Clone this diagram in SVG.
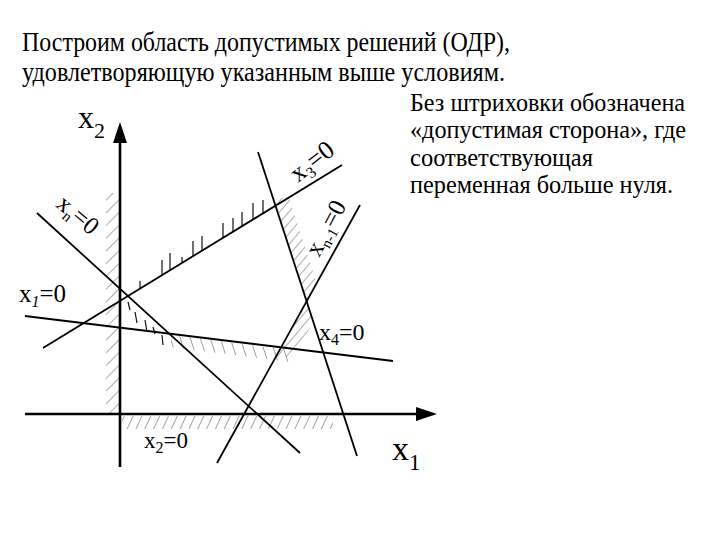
<svg xmlns="http://www.w3.org/2000/svg" width="720" height="540" viewBox="0 0 720 540" font-family="Liberation Serif">
<style>
text{fill:#000}
.ax{stroke:#000;stroke-width:2.6;fill:none}
.ln{stroke:#000;stroke-width:1.8;fill:none}
.tk{stroke:#111;stroke-width:1.2;fill:none}
.hb{stroke:none}
</style>
<defs>
<pattern id="h45" width="9" height="8" patternUnits="userSpaceOnUse" patternTransform="rotate(45)"><line x1="0" y1="0" x2="0" y2="8" stroke="#666" stroke-width="1.1"/></pattern>
<pattern id="h25" width="8" height="8" patternUnits="userSpaceOnUse" patternTransform="rotate(25)"><line x1="0" y1="0" x2="0" y2="8" stroke="#555" stroke-width="1.1"/></pattern>
<pattern id="hb18" width="9.5" height="8" patternUnits="userSpaceOnUse" patternTransform="rotate(-18)"><line x1="0" y1="0" x2="0" y2="8" stroke="#555" stroke-width="1.1"/></pattern>
<pattern id="h40" width="7" height="8" patternUnits="userSpaceOnUse" patternTransform="rotate(40)"><line x1="0" y1="0" x2="0" y2="8" stroke="#666" stroke-width="1.1"/></pattern>
</defs>
<rect width="720" height="540" fill="#fff"/>
<g id="title" font-family="Liberation Serif">
<text x="22" y="51" font-size="28" textLength="488" lengthAdjust="spacingAndGlyphs">Построим область допустимых решений (ОДР),</text>
<text x="22" y="81" font-size="28" textLength="483" lengthAdjust="spacingAndGlyphs">удовлетворяющую указанным выше условиям.</text>
</g>
<g id="note" font-family="Liberation Serif">
<text x="410" y="111" font-size="26" textLength="275" lengthAdjust="spacingAndGlyphs">Без штриховки обозначена</text>
<text x="410" y="138" font-size="26" textLength="276" lengthAdjust="spacingAndGlyphs">«допустимая сторона», где</text>
<text x="410" y="166" font-size="26" textLength="183" lengthAdjust="spacingAndGlyphs">соответствующая</text>
<text x="410" y="193" font-size="26" textLength="263" lengthAdjust="spacingAndGlyphs">переменная больше нуля.</text>
</g>
<g id="hatching">
<polygon class="hb" fill="url(#h45)" points="106,193 119,193 119,413 106,413"/>
<polygon class="hb" fill="url(#h25)" points="122,416 333,416 333,429 122,429"/>
<polygon class="hb" fill="url(#hb18)" points="171,335 290,350 290,362 171,347"/>
<polygon class="hb" fill="url(#h40)" points="273,198 289,198 316.8,283.3 306.7,301.5"/>
<polygon class="hb" fill="url(#h40)" points="306.7,301.5 313.3,321.9 293.9,357 275.9,357"/>
<path class="tk" d="M140 288.6V281M162 275.2V260M170 270.3V253M182 262.9V257M193 256.2V241M202 250.7V236M223 237.8V223M233 231.7V218M242 226.2V212M253 219.5V203M263 213.4V200"/>
<path class="tk" d="M128 302L130 310M135 312L137 323M145 320L147 332M153 327L155 334M162 335L163 345"/>
</g>
<g id="connectors">
<line class="ln" x1="25" y1="316" x2="393" y2="361"/>
<line class="ln" x1="43" y1="348" x2="342" y2="165"/>
<line class="ln" x1="37" y1="213" x2="300" y2="453"/>
<line class="ln" x1="217" y1="463" x2="360" y2="205"/>
<line class="ln" x1="258" y1="152" x2="357" y2="456"/>
</g>
<g id="axis-x2" font-family="Liberation Serif">
<line class="ax" x1="120" y1="467" x2="120" y2="140"/>
<polygon points="120,122 113,143 127,143" fill="#000"/>
<text x="78" y="128" font-size="32">x<tspan font-size="22" dy="10">2</tspan></text>
</g>
<g id="axis-x1" font-family="Liberation Serif">
<line class="ax" x1="25" y1="414" x2="419" y2="414"/>
<polygon points="437,414 416,407 416,421" fill="#000"/>
<text x="392" y="460" font-size="34">x<tspan font-size="23" dy="10">1</tspan></text>
</g>
<g id="labels" font-family="Liberation Serif">
<text x="19" y="302" font-size="25">x<tspan font-size="16" font-style="italic" dy="5">1</tspan><tspan dy="-5">=0</tspan></text>
<text x="319" y="340" font-size="24">x<tspan font-size="16" dy="5">4</tspan><tspan dy="-5">=0</tspan></text>
<text x="144" y="448" font-size="23">x<tspan font-size="16" dy="5">2</tspan><tspan dy="-5">=0</tspan></text>
<text transform="translate(298,183) rotate(-38)" font-size="26">x<tspan font-size="16" dy="5">3</tspan><tspan dy="-5">=0</tspan></text>
<text transform="translate(319,258) rotate(-62)" font-size="25">x<tspan font-size="15" dy="5">n-1</tspan><tspan dy="-5">=0</tspan></text>
<text transform="translate(55,206) rotate(40)" font-size="25">x<tspan font-size="15" dy="5">n</tspan><tspan dy="-5">=0</tspan></text>
</g>
</svg>
